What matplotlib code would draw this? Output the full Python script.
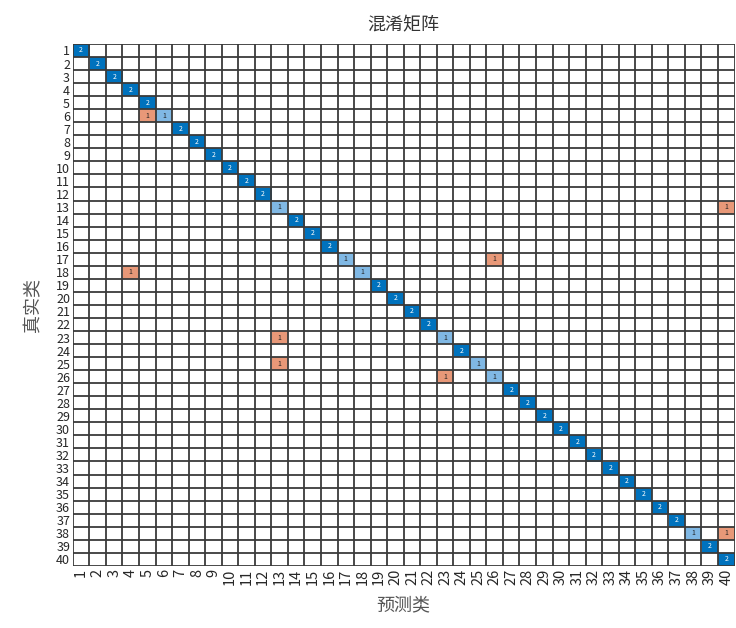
import matplotlib.pyplot as plt
import numpy as np

plt.rcParams['font.family'] = ['Noto Sans CJK SC', 'DejaVu Sans']

n_classes = 40
labels = [str(i) for i in range(1, n_classes + 1)]

# diagonal counts (true == predicted)
diag_counts = [2, 2, 2, 2, 2, 1, 2, 2, 2, 2,
               2, 2, 1, 2, 2, 2, 1, 1, 2, 2,
               2, 2, 1, 2, 1, 1, 2, 2, 2, 2,
               2, 2, 2, 2, 2, 2, 2, 1, 2, 2]

# off-diagonal errors: (true class, predicted class, count)
err_true = [6, 13, 17, 18, 23, 25, 26, 38]
err_pred = [5, 40, 26, 4, 13, 13, 23, 40]
err_count = [1, 1, 1, 1, 1, 1, 1, 1]

cm = np.zeros((n_classes, n_classes), dtype=int)
for i, v in enumerate(diag_counts):
    cm[i, i] = v
for t, p, c in zip(err_true, err_pred, err_count):
    cm[t - 1, p - 1] = c

blue_dark = np.array([0, 114, 189]) / 255
blue_light = np.array([128, 184, 228]) / 255
orange = np.array([232, 152, 120]) / 255

img = np.ones((n_classes, n_classes, 3))
for i in range(n_classes):
    for j in range(n_classes):
        v = cm[i, j]
        if v == 0:
            continue
        if i == j:
            img[i, j] = blue_dark if v >= 2 else blue_light
        else:
            img[i, j] = orange

fig = plt.figure(figsize=(7.36, 6.28), dpi=100)
ax = fig.add_axes([0.099, 0.099, 0.899, 0.831])
ax.imshow(img, aspect='auto', interpolation='nearest',
          extent=(0.5, n_classes + 0.5, n_classes + 0.5, 0.5))

for i in range(n_classes):
    for j in range(n_classes):
        v = cm[i, j]
        if v == 0:
            continue
        col = 'white' if (i == j and v >= 2) else '#222222'
        ax.text(j + 1, i + 1, str(v), ha='center', va='center',
                fontsize=5, color=col)

# cell borders
for k in range(n_classes + 1):
    ax.axhline(k + 0.5, color='#3a3a3a', lw=1.3)
    ax.axvline(k + 0.5, color='#3a3a3a', lw=1.3)

ax.set_xlim(0.5, n_classes + 0.5)
ax.set_ylim(n_classes + 0.5, 0.5)
ax.set_xticks(range(1, n_classes + 1))
ax.set_yticks(range(1, n_classes + 1))
ax.set_xticklabels(labels, rotation=90, fontsize=10.5, color='#262626')
ax.set_yticklabels(labels, fontsize=9, color='#262626')
ax.tick_params(length=0, pad=2)
for s in ax.spines.values():
    s.set_visible(False)

ax.set_title('混淆矩阵', fontsize=13, color='#333333', pad=10)
ax.set_xlabel('预测类', fontsize=13, color='#555555', labelpad=8)
ax.set_ylabel('真实类', fontsize=13, color='#555555', labelpad=10)

fig.savefig('out.png', dpi=100, facecolor='white')
